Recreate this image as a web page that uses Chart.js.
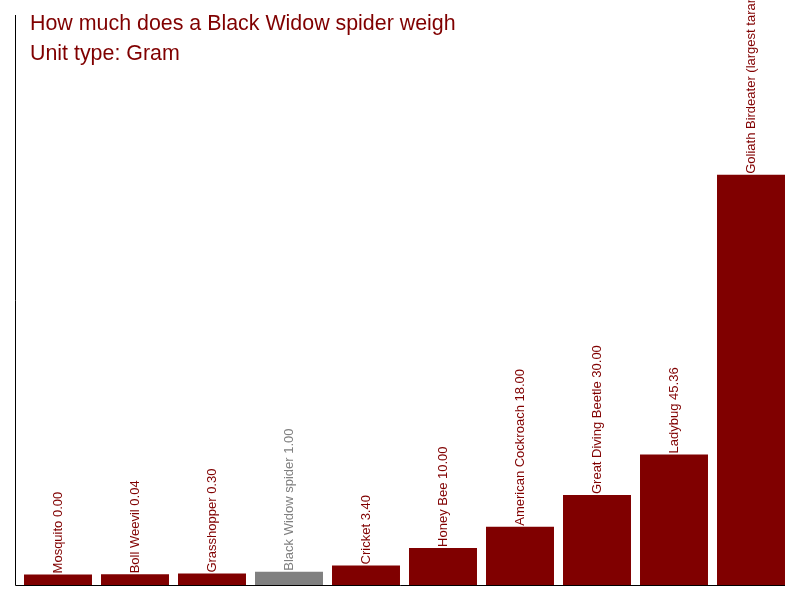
<!DOCTYPE html>
<html>
<head>
<meta charset="utf-8">
<script src="https://cdn.jsdelivr.net/npm/chart.js@4"></script>
<style>
  body { margin: 0; background: #fff; }
  #wrap { width: 800px; height: 600px; }
</style>
</head>
<body>
<div id="wrap"><canvas id="chart" width="800" height="600"></canvas></div>
<script>
const categories = ['Mosquito', 'Boll Weevil', 'Grasshopper', 'Black Widow spider', 'Cricket',
    'Honey Bee', 'American Cockroach', 'Great Diving Beetle', 'Ladybug', 'Goliath Birdeater (largest tarantula)'];
const weights = [0.00, 0.04, 0.30, 1.00, 3.40, 10.00, 18.00, 30.00, 45.36, 151.00];
const highlighted = 'Black Widow spider';
const titleLines = ['How much does a Black Widow spider weigh', 'Unit type: Gram'];
const yMin = -4;
const yMax = 211.4;

const mainColor = '#800000';
const otherColor = '#808080';
const colorFor = name => name === highlighted ? otherColor : mainColor;

// axis lines, title and rotated bar labels
const decorations = {
    id: 'decorations',
    afterDraw(chart) {
        const ctx = chart.ctx;
        const area = chart.chartArea;
        const left = area.left - 4.5;
        ctx.save();

        ctx.strokeStyle = '#000';
        ctx.lineWidth = 1;
        ctx.beginPath();
        ctx.moveTo(left + 0.5, area.top);
        ctx.lineTo(left + 0.5, area.bottom + 0.5);
        ctx.lineTo(area.right - 4.5, area.bottom + 0.5);
        ctx.stroke();

        ctx.fillStyle = mainColor;
        ctx.font = '21.4px "Liberation Sans", Arial, sans-serif';
        ctx.textBaseline = 'alphabetic';
        ctx.textAlign = 'left';
        ctx.fillText(titleLines[0], left + 15, 30);
        ctx.fillText(titleLines[1], left + 15, 60);

        ctx.font = '13px "Liberation Sans", Arial, sans-serif';
        ctx.textBaseline = 'middle';
        chart.getDatasetMeta(0).data.forEach((bar, i) => {
            ctx.save();
            ctx.translate(bar.x, bar.y - 1);
            ctx.rotate(-Math.PI / 2);
            ctx.fillStyle = colorFor(categories[i]);
            ctx.fillText(categories[i] + ' ' + weights[i].toFixed(2), 0, 0);
            ctx.restore();
        });
        ctx.restore();
    }
};

new Chart(document.getElementById('chart'), {
    type: 'bar',
    data: {
        labels: categories,
        datasets: [{
            data: weights,
            base: yMin,
            backgroundColor: categories.map(colorFor),
            borderWidth: 0,
            barPercentage: 0.883,
            categoryPercentage: 1.0
        }]
    },
    options: {
        responsive: false,
        animation: false,
        layout: { padding: { left: 19.5, right: 10.5, top: 15, bottom: 15 } },
        scales: {
            x: { display: false },
            y: { display: false, min: yMin, max: yMax }
        },
        plugins: {
            legend: { display: false },
            tooltip: { enabled: false }
        }
    },
    plugins: [decorations]
});
</script>
</body>
</html>
